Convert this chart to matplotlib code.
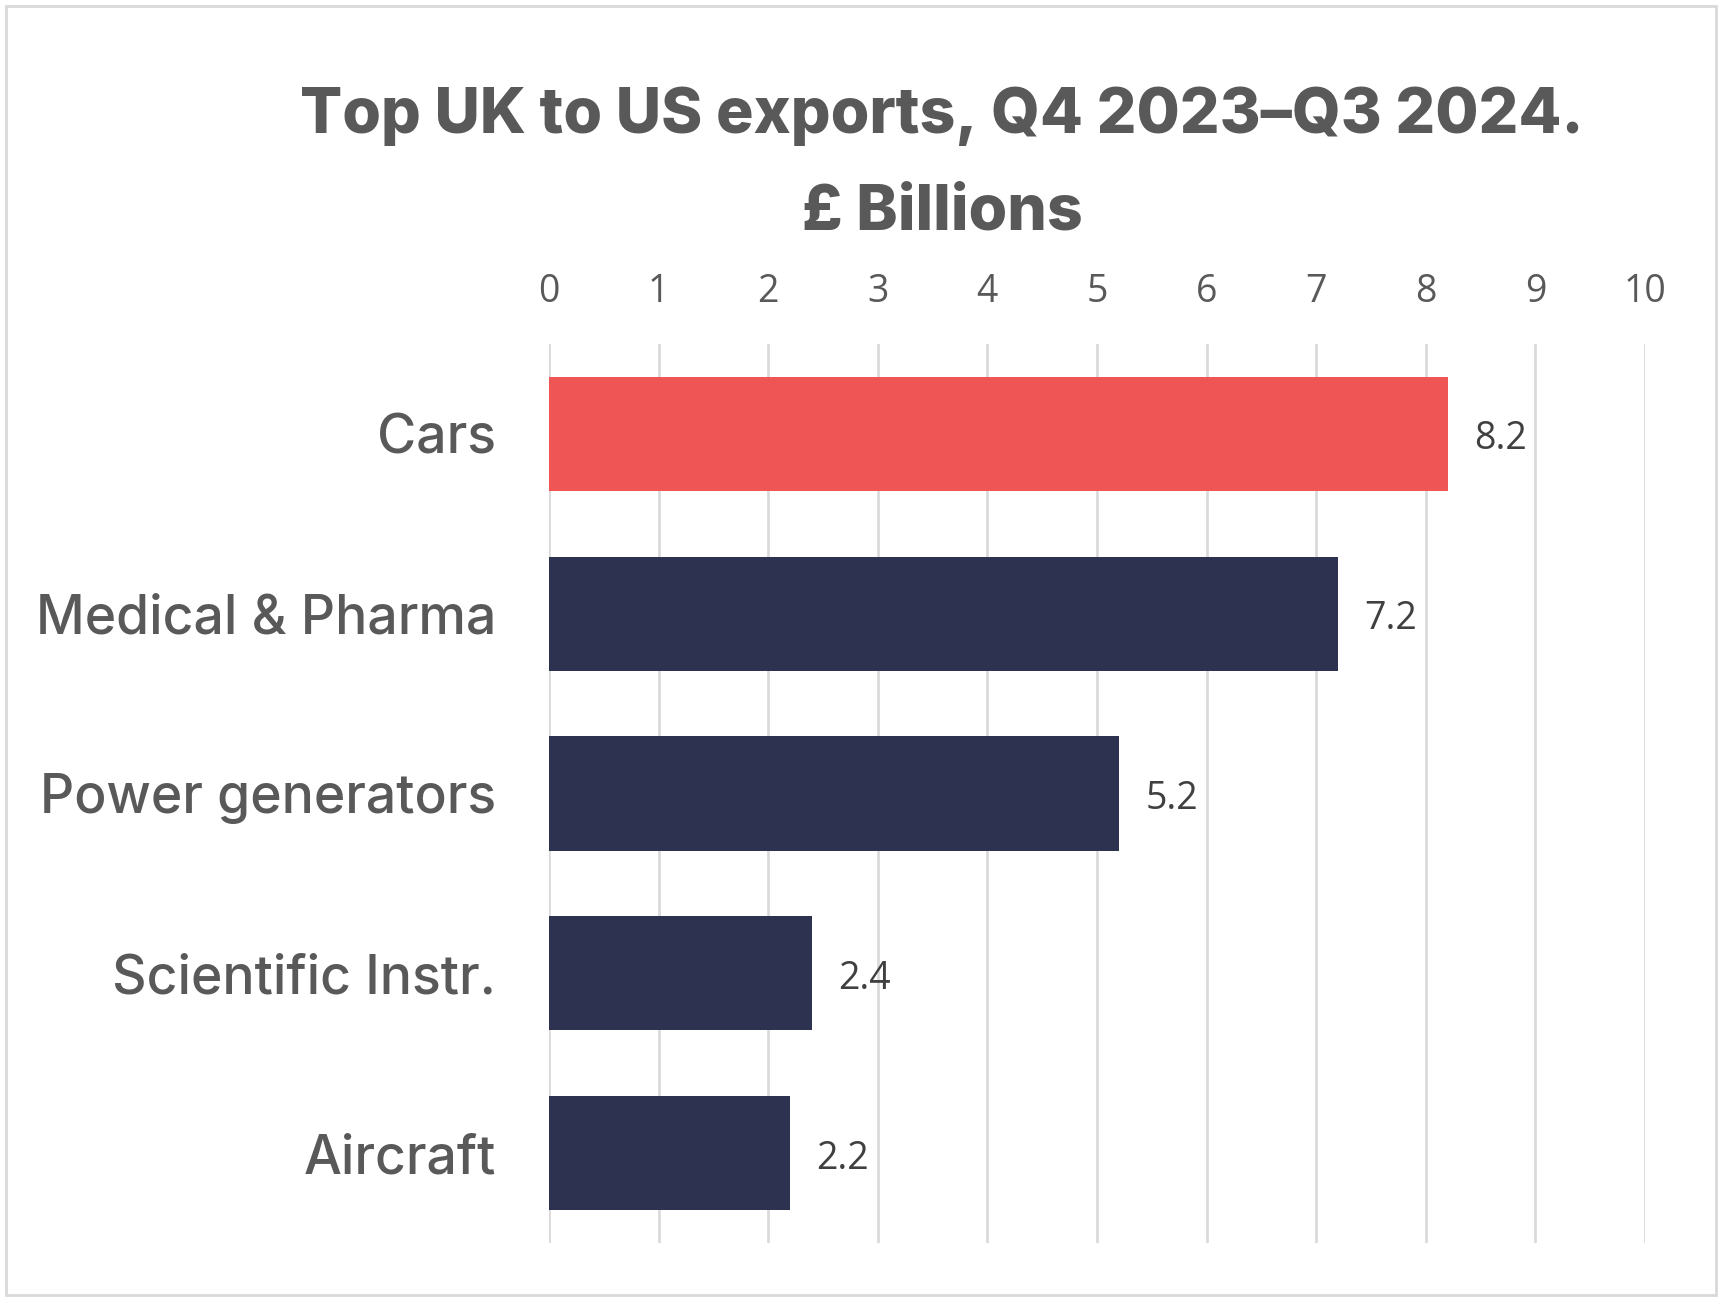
import matplotlib
matplotlib.use("Agg")
import matplotlib.pyplot as plt
from matplotlib.patches import Rectangle

categories = ["Cars", "Medical & Pharma", "Power generators", "Scientific Instr.", "Aircraft"]
values = [8.2, 7.2, 5.2, 2.4, 2.2]
bar_colors = ["#EF5555", "#2C3250", "#2C3250", "#2C3250", "#2C3250"]
x_ticks = [0, 1, 2, 3, 4, 5, 6, 7, 8, 9, 10]
title_lines = ["Top UK to US exports, Q4 2023\u2013Q3 2024.", "\u00a3 Billions"]

W, H = 1723, 1301
fig = plt.figure(figsize=(W / 100, H / 100), dpi=100)
fig.patch.set_facecolor("white")

# outer border
fig.patches.append(Rectangle((5.5 / W, 6 / H), 1710 / W, 1289 / H, transform=fig.transFigure,
                             fill=False, edgecolor="#d9d9d9", linewidth=2))

ax = fig.add_axes([549 / W, 1 - 1243 / H, 1096 / W, 899 / H])
ypos = list(range(len(categories)))
ax.barh(ypos, values, height=0.636, color=bar_colors, zorder=3)
ax.set_ylim(len(categories) - 0.5, -0.5)
ax.set_xlim(0, 10)
ax.set_xticks(x_ticks)
ax.set_xticklabels([str(t) for t in x_ticks])
ax.xaxis.tick_top()
ax.tick_params(axis="x", length=0, pad=23.5, labelsize=27, labelcolor="#595959")
for lab in ax.get_xticklabels():
    lab.set_fontfamily("Open Sans")
ax.set_yticks(ypos)
ax.set_yticklabels(categories)
ax.tick_params(axis="y", length=0, pad=38, labelsize=38.5, labelcolor="#595959")
for lab in ax.get_yticklabels():
    lab.set_fontfamily("Inter")
    lab.set_fontweight("medium")
ax.grid(axis="x", color="#d9d9d9", linewidth=1.9, zorder=0)
ax.grid(axis="y", visible=False)
for s in ax.spines.values():
    s.set_visible(False)

for y, v in zip(ypos, values):
    ax.annotate(f"{v:.1f}", xy=(v, y), xytext=(19, -4), textcoords="offset points",
                ha="left", va="center", fontsize=27, color="#404040", fontfamily="Open Sans")

fig.text(942 / W, 1 - 133 / H, title_lines[0], ha="center", va="baseline", fontsize=45,
         fontweight="heavy", color="#595959", fontfamily="Inter")
fig.text(942 / W, 1 - 229 / H, title_lines[1], ha="center", va="baseline", fontsize=45,
         fontweight="heavy", color="#595959", fontfamily="Inter")

fig.savefig("out.png", dpi=100, facecolor="white")
